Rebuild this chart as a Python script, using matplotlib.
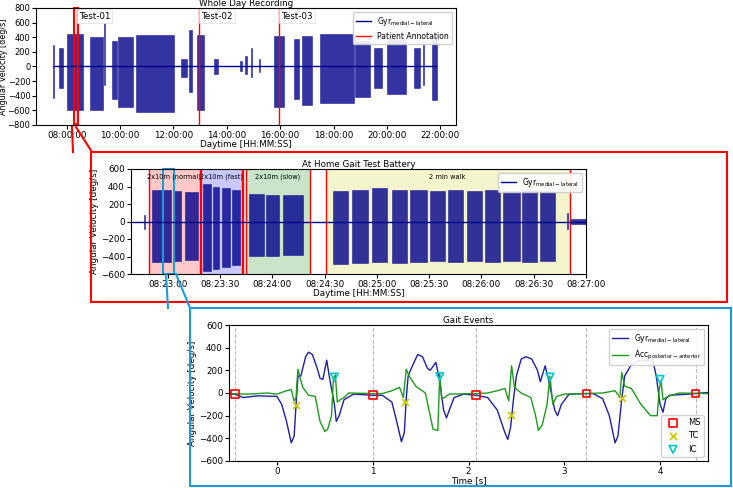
import numpy as np
import matplotlib
matplotlib.use("Agg")
import matplotlib.pyplot as plt
import matplotlib.dates as mdates
from matplotlib.patches import Rectangle
from datetime import datetime, timedelta

NAVY = "#00008B"
# ---------------- data ----------------
# whole-day bursts: (start_h, end_h, pos_peak, neg_peak)
day_bursts = [(7.50, 7.53, 300, -430), (7.70, 7.88, 250, -300), (8.00, 8.62, 450, -600),
              (8.87, 9.37, 400, -600), (9.38, 9.42, 600, -250), (9.68, 9.87, 350, -450),
              (9.93, 10.50, 400, -550), (10.61, 12.04, 430, -620), (12.30, 12.50, 100, -150),
              (12.60, 12.70, 500, -350), (12.90, 13.16, 430, -600), (13.53, 13.66, 100, -100),
              (14.50, 14.56, 80, -60), (14.70, 14.76, 150, -100), (14.90, 14.96, 250, -150),
              (15.20, 15.26, 100, -80), (15.77, 16.15, 420, -560), (16.52, 16.70, 380, -450),
              (16.83, 17.20, 420, -520), (17.50, 18.76, 450, -500), (18.82, 19.38, 350, -420),
              (19.50, 19.80, 250, -300), (20.00, 20.70, 380, -380), (21.00, 21.24, 250, -300),
              (21.35, 21.40, 350, -250), (21.68, 21.87, 420, -460)]
day_annotations = [8.375, 12.94, 15.96]
day_labels = ["Test-01", "Test-02", "Test-03"]
day_label_pos = [8.45, 13.05, 16.05]

# gait test battery, seconds after 08:22:00
battery_regions = [(48.9, 78.5, "#FFB3B3", "2x10m (normal)"), (79.0, 102.6, "#B3B3FF", "2x10m (fast)"),
                   (105.0, 141.3, "#B3D9B3", "2x10m (slow)"), (150.5, 290.6, "#F0F0B8", "2 min walk")]
battery_lines = [48.9, 78.5, 79.0, 102.6, 103.2, 105.0, 141.3, 150.5, 290.6]
battery_bouts = [(46.4, 46.9, 80, -90),
                 (50.8, 61.9, 360, -460), (63.6, 67.5, 350, -450), (69.6, 77.0, 340, -440),
                 (80.1, 84.7, 430, -560), (85.8, 89.6, 400, -540), (91.0, 95.4, 380, -520),
                 (96.7, 101.5, 360, -500),
                 (106.8, 114.9, 310, -390), (116.4, 123.7, 300, -390), (126.3, 137.8, 300, -380),
                 (155.0, 163.6, 350, -480), (165.5, 175.1, 360, -470), (177.0, 185.6, 380, -460),
                 (188.5, 197.1, 360, -470), (199.0, 208.6, 360, -460), (210.5, 219.1, 350, -450),
                 (221.0, 229.6, 360, -460), (231.5, 240.1, 350, -450), (242.0, 250.6, 360, -460),
                 (252.5, 262.1, 350, -450), (263.1, 271.7, 360, -460), (273.6, 282.2, 350, -450),
                 (289.0, 289.5, 100, -80), (291.0, 300.0, 30, -30)]

# gait events
gyr_t = [-0.5, -0.44, -0.35, -0.2, 0.0, 0.05, 0.1, 0.15, 0.18, 0.2, 0.22, 0.25, 0.3, 0.33, 0.37, 0.42,
         0.45, 0.48, 0.52, 0.55, 0.6, 0.62, 0.65, 0.7, 0.8, 1.0,
         1.1, 1.2, 1.25, 1.3, 1.33, 1.35, 1.37, 1.42, 1.47, 1.52, 1.57, 1.6, 1.66, 1.7, 1.74, 1.77,
         1.8, 1.85, 1.95, 2.08,
         2.2, 2.3, 2.38, 2.41, 2.44, 2.47, 2.5, 2.55, 2.6, 2.66, 2.72, 2.75, 2.8, 2.84, 2.9, 2.93,
         2.97, 3.05, 3.23,
         3.3, 3.4, 3.47, 3.53, 3.56, 3.6, 3.63, 3.7, 3.8, 3.88, 3.92, 3.96, 4.0, 4.03, 4.06, 4.1,
         4.3, 4.37, 4.5]
gyr_v = [-10, -10, -40, -25, -30, -100, -250, -440, -380, -100, 150, 150, 320, 360, 340, 220,
         130, 120, 290, 130, -100, -250, -200, -60, -10, -20,
         -20, -80, -250, -430, -350, -50, 150, 250, 340, 320, 220, 200, 270, 100, -150, -220,
         -150, -40, -10, -20,
         -40, -150, -350, -410, -300, -50, 150, 300, 320, 300, 200, 100, 240, 100, -150, -200,
         -100, -10, -5,
         -5, -50, -200, -440, -380, -50, 150, 250, 290, 280, 300, 150, -100, -170, -50, -20,
         -10, -5, 5]
acc_t = [-0.5, -0.3, -0.1, 0.0, 0.1, 0.15, 0.18, 0.2, 0.21, 0.22, 0.24, 0.27, 0.33, 0.4, 0.45, 0.5,
         0.53, 0.57, 0.59, 0.61, 0.63, 0.66, 0.7, 0.75, 1.0,
         1.1, 1.2, 1.28, 1.32, 1.35, 1.38, 1.45, 1.55, 1.6, 1.63, 1.68, 1.7, 1.72, 1.75, 1.8, 2.08,
         2.2, 2.3, 2.38, 2.42, 2.45, 2.48, 2.55, 2.65, 2.7, 2.73, 2.77, 2.82, 2.85, 2.88, 2.92, 3.0, 3.23,
         3.4, 3.53, 3.58, 3.6, 3.63, 3.7, 3.8, 3.9, 3.97, 3.99, 4.01, 4.03, 4.08, 4.2, 4.5]
acc_v = [-5, -10, 0, -10, 20, 30, -70, -40, 100, 210, 140, 50, -20, -30, -250, -340,
         -320, -200, 120, 160, -80, -60, -40, 0, -5,
         -5, 20, 50, -40, 210, 150, 60, 0, -200, -320, -330, 170, -50, -40, -10, -5,
         0, 20, 40, -70, 240, 50, 0, -40, -200, -330, -280, -100, 150, -100, -30, -10, -5,
         0, 20, -40, 180, 60, 40, -100, -200, -200, 30, 110, -60, -30, 0, -5]
ms_t = [-0.44, 1.0, 2.08, 3.23, 4.37]
ms_v = [-10, -20, -20, -5, -5]
tc_t = [0.2, 1.34, 2.44, 3.6]
tc_v = [-110, -80, -195, -40]
ic_t = [0.6, 1.7, 2.85, 4.0]
ic_v = [140, 145, 140, 120]

# ---------------- figure ----------------
plt.rcParams.update({"font.size": 6.3, "axes.linewidth": 0.8})
fig = plt.figure(figsize=(7.33, 4.88), dpi=100)
W, H = 733, 488
def ax_px(l, t, r, b):
    return fig.add_axes([l / W, 1 - b / H, (r - l) / W, (b - t) / H])

day0 = datetime(2020, 1, 1)
def hdt(h):
    return day0 + timedelta(hours=h)

# --- top
ax1 = ax_px(36, 8, 456, 125)
for s, e, p, n in day_bursts:
    ax1.fill_between([hdt(s), hdt(e)], [n, n], [p, p], facecolor=NAVY, edgecolor=NAVY, lw=0.4, alpha=0.8)
ax1.plot([hdt(7.5), hdt(21.85)], [0, 0], color=NAVY, lw=1, label=r"Gyr$_{\rm medial-lateral}$")
for i, h in enumerate(day_annotations):
    ax1.axvline(hdt(h), color="red", lw=1, label="Patient Annotation" if i == 0 else None)
    ax1.text(hdt(day_label_pos[i]), 690, day_labels[i], fontsize=6.3, va="center",
             bbox=dict(fc="white", ec="#dddddd", lw=0.5, pad=1.5))
ax1.set_xlim(hdt(6.85), hdt(22.59))
ax1.set_ylim(-800, 800)
ax1.set_yticks(range(-800, 801, 200))
ax1.xaxis.set_major_locator(mdates.HourLocator(byhour=range(8, 23, 2)))
ax1.xaxis.set_major_formatter(mdates.DateFormatter("%H:%M:%S"))
ax1.set_title("Whole Day Recording", fontsize=6.3, pad=1)
ax1.set_xlabel("Daytime [HH:MM:SS]", labelpad=0)
ax1.set_ylabel("Angular Velocity [deg/s]", labelpad=0, fontsize=5.8)
ax1.legend(loc="upper right", fontsize=5.5, framealpha=0.9)
ax1.add_patch(Rectangle((mdates.date2num(hdt(8.26)), -790), mdates.date2num(hdt(8.41)) - mdates.date2num(hdt(8.26)),
                        1590, fill=False, ec="red", lw=1.5, clip_on=False))

# --- middle
b0 = datetime(2020, 1, 1, 8, 22, 0)
def sdt(s):
    return b0 + timedelta(seconds=s)
ax2 = ax_px(131, 169, 586, 274)
for s, e, c, lab in battery_regions:
    ax2.axvspan(sdt(s), sdt(e), color=c, alpha=0.7, lw=0)
    ax2.text(sdt((s + e) / 2), 510, lab, ha="center", va="center", fontsize=4.8)
for x in battery_lines:
    ax2.axvline(sdt(x), color="red", lw=1)
for s, e, p, n in battery_bouts:
    ax2.fill_between([sdt(s), sdt(e)], [n, n], [p, p], facecolor=NAVY, edgecolor=NAVY, lw=0.4, alpha=0.8)
ax2.plot([sdt(38.8), sdt(300)], [0, 0], color=NAVY, lw=1, label=r"Gyr$_{\rm medial-lateral}$")
ax2.set_xlim(sdt(38.8), sdt(300))
ax2.set_ylim(-600, 600)
ax2.set_yticks(range(-600, 601, 200))
ax2.xaxis.set_major_locator(mdates.SecondLocator(bysecond=[0, 30]))
ax2.xaxis.set_major_formatter(mdates.DateFormatter("%H:%M:%S"))
ax2.set_title("At Home Gait Test Battery", fontsize=6.3, pad=1)
ax2.set_xlabel("Daytime [HH:MM:SS]", labelpad=0)
ax2.set_ylabel("Angular Velocity [deg/s]", labelpad=1)
ax2.legend(loc="upper right", fontsize=5.5, framealpha=0.9)
ax2.add_patch(Rectangle((mdates.date2num(sdt(57.1)), -600), mdates.date2num(sdt(63.2)) - mdates.date2num(sdt(57.1)),
                        1200, fill=False, ec="#1E9BD7", lw=1.5, clip_on=False))

# --- bottom
ax3 = ax_px(229, 325, 708, 461)
for x in ms_t:
    ax3.axvline(x, color="#bbbbbb", ls="--", lw=0.8)
l1, = ax3.plot(gyr_t, gyr_v, color="#1F1FA0", lw=1, label=r"Gyr$_{\rm medial-lateral}$")
l2, = ax3.plot(acc_t, acc_v, color="#1E9A1E", lw=1, label=r"Acc$_{\rm posterior-anterior}$")
m1 = ax3.scatter(ms_t, ms_v, marker="s", s=30, facecolor="none", edgecolor="red", lw=1.2, zorder=5, label="MS")
m2 = ax3.scatter(tc_t, tc_v, marker="x", s=25, color="#C8C800", lw=1.2, zorder=5, label="TC")
m3 = ax3.scatter(ic_t, ic_v, marker="v", s=30, facecolor="none", edgecolor="#00C8C8", lw=1.2, zorder=5, label="IC")
ax3.set_xlim(-0.5, 4.5)
ax3.set_ylim(-600, 600)
ax3.set_yticks(range(-600, 601, 200))
ax3.set_title("Gait Events", fontsize=6.3, pad=1)
ax3.set_xlabel("Time [s]", labelpad=0)
ax3.set_ylabel("Angular Velocity [deg/s]", labelpad=1)
lg = ax3.legend(handles=[l1, l2], loc="upper right", fontsize=5.5, framealpha=0.9)
ax3.add_artist(lg)
ax3.legend(handles=[m1, m2, m3], loc="lower right", fontsize=6, framealpha=0.9)

for a in (ax1, ax2, ax3):
    a.tick_params(length=3, width=0.8, pad=1.5)
ax1.tick_params(axis="y", labelsize=6, pad=1)

# --- connector boxes and lines (figure pixels)
def fig_line(x0, y0, x1, y1, c):
    fig.add_artist(plt.Line2D([x0 / W, x1 / W], [1 - y0 / H, 1 - y1 / H], color=c, lw=1.5))
def fig_rect(l, t, r, b, c):
    fig.add_artist(Rectangle((l / W, 1 - b / H), (r - l) / W, (b - t) / H, fill=False, ec=c, lw=1.5,
                             transform=fig.transFigure))
fig_rect(91, 152, 727, 302, "red")
fig_line(72, 127, 73, 152, "red")
fig_line(76, 127, 92, 152, "red")
fig_rect(190, 308, 731, 486, "#1E9BD7")
fig_line(166, 274, 168, 308, "#1E9BD7")
fig_line(176, 274, 190, 308, "#1E9BD7")

fig.savefig("out.png", dpi=100)
